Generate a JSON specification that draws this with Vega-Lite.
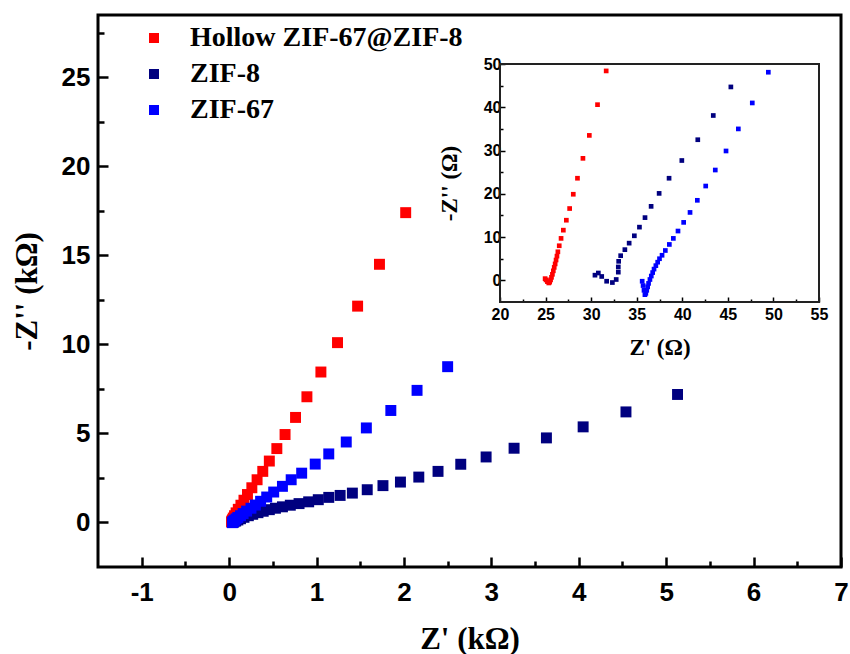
{
  "$schema": "https://vega.github.io/schema/vega-lite/v6.json",
  "width": 743,
  "height": 552,
  "autosize": "none",
  "padding": {"left": 98, "top": 15, "right": 9, "bottom": 87},
  "background": "white",
  "config": {
    "view": {"stroke": "black", "strokeWidth": 3},
    "axis": {"grid": false, "domain": false, "tickColor": "black", "labelColor": "black", "titleColor": "black", "labelFlush": false, "labelOverlap": false}
  },
  "datasets": {
    "main": [
      {"s": "Hollow ZIF-67@ZIF-8", "x": 2.02, "y": 17.4},
      {"s": "Hollow ZIF-67@ZIF-8", "x": 1.72, "y": 14.5},
      {"s": "Hollow ZIF-67@ZIF-8", "x": 1.47, "y": 12.15},
      {"s": "Hollow ZIF-67@ZIF-8", "x": 1.24, "y": 10.1},
      {"s": "Hollow ZIF-67@ZIF-8", "x": 1.05, "y": 8.45},
      {"s": "Hollow ZIF-67@ZIF-8", "x": 0.89, "y": 7.06},
      {"s": "Hollow ZIF-67@ZIF-8", "x": 0.76, "y": 5.9},
      {"s": "Hollow ZIF-67@ZIF-8", "x": 0.64, "y": 4.94},
      {"s": "Hollow ZIF-67@ZIF-8", "x": 0.546, "y": 4.15},
      {"s": "Hollow ZIF-67@ZIF-8", "x": 0.46, "y": 3.45},
      {"s": "Hollow ZIF-67@ZIF-8", "x": 0.385, "y": 2.87},
      {"s": "Hollow ZIF-67@ZIF-8", "x": 0.32, "y": 2.4},
      {"s": "Hollow ZIF-67@ZIF-8", "x": 0.26, "y": 1.95},
      {"s": "Hollow ZIF-67@ZIF-8", "x": 0.21, "y": 1.57},
      {"s": "Hollow ZIF-67@ZIF-8", "x": 0.17, "y": 1.25},
      {"s": "Hollow ZIF-67@ZIF-8", "x": 0.135, "y": 0.97},
      {"s": "Hollow ZIF-67@ZIF-8", "x": 0.105, "y": 0.74},
      {"s": "Hollow ZIF-67@ZIF-8", "x": 0.08, "y": 0.54},
      {"s": "Hollow ZIF-67@ZIF-8", "x": 0.062, "y": 0.38},
      {"s": "Hollow ZIF-67@ZIF-8", "x": 0.048, "y": 0.25},
      {"s": "Hollow ZIF-67@ZIF-8", "x": 0.038, "y": 0.15},
      {"s": "Hollow ZIF-67@ZIF-8", "x": 0.032, "y": 0.08},
      {"s": "Hollow ZIF-67@ZIF-8", "x": 0.028, "y": 0.03},
      {"s": "ZIF-8", "x": 5.13, "y": 7.19},
      {"s": "ZIF-8", "x": 4.54, "y": 6.21},
      {"s": "ZIF-8", "x": 4.05, "y": 5.37},
      {"s": "ZIF-8", "x": 3.63, "y": 4.75},
      {"s": "ZIF-8", "x": 3.26, "y": 4.17},
      {"s": "ZIF-8", "x": 2.94, "y": 3.68},
      {"s": "ZIF-8", "x": 2.65, "y": 3.27},
      {"s": "ZIF-8", "x": 2.39, "y": 2.87},
      {"s": "ZIF-8", "x": 2.17, "y": 2.55},
      {"s": "ZIF-8", "x": 1.96, "y": 2.27},
      {"s": "ZIF-8", "x": 1.76, "y": 2.07},
      {"s": "ZIF-8", "x": 1.58, "y": 1.84},
      {"s": "ZIF-8", "x": 1.41, "y": 1.65},
      {"s": "ZIF-8", "x": 1.27, "y": 1.52},
      {"s": "ZIF-8", "x": 1.14, "y": 1.41},
      {"s": "ZIF-8", "x": 1.02, "y": 1.28},
      {"s": "ZIF-8", "x": 0.91, "y": 1.16},
      {"s": "ZIF-8", "x": 0.8, "y": 1.06},
      {"s": "ZIF-8", "x": 0.7, "y": 0.97},
      {"s": "ZIF-8", "x": 0.61, "y": 0.88},
      {"s": "ZIF-8", "x": 0.53, "y": 0.8},
      {"s": "ZIF-8", "x": 0.46, "y": 0.72},
      {"s": "ZIF-8", "x": 0.39, "y": 0.63},
      {"s": "ZIF-8", "x": 0.33, "y": 0.55},
      {"s": "ZIF-8", "x": 0.27, "y": 0.46},
      {"s": "ZIF-8", "x": 0.22, "y": 0.38},
      {"s": "ZIF-8", "x": 0.17, "y": 0.29},
      {"s": "ZIF-8", "x": 0.13, "y": 0.21},
      {"s": "ZIF-8", "x": 0.1, "y": 0.14},
      {"s": "ZIF-8", "x": 0.075, "y": 0.08},
      {"s": "ZIF-8", "x": 0.055, "y": 0.04},
      {"s": "ZIF-8", "x": 0.045, "y": 0.01},
      {"s": "ZIF-67", "x": 2.5, "y": 8.75},
      {"s": "ZIF-67", "x": 2.15, "y": 7.42},
      {"s": "ZIF-67", "x": 1.85, "y": 6.29},
      {"s": "ZIF-67", "x": 1.57, "y": 5.31},
      {"s": "ZIF-67", "x": 1.34, "y": 4.52},
      {"s": "ZIF-67", "x": 1.14, "y": 3.85},
      {"s": "ZIF-67", "x": 0.985, "y": 3.28},
      {"s": "ZIF-67", "x": 0.83, "y": 2.77},
      {"s": "ZIF-67", "x": 0.71, "y": 2.4},
      {"s": "ZIF-67", "x": 0.61, "y": 2.03},
      {"s": "ZIF-67", "x": 0.51, "y": 1.71},
      {"s": "ZIF-67", "x": 0.43, "y": 1.43},
      {"s": "ZIF-67", "x": 0.36, "y": 1.19},
      {"s": "ZIF-67", "x": 0.3, "y": 0.98},
      {"s": "ZIF-67", "x": 0.25, "y": 0.8},
      {"s": "ZIF-67", "x": 0.2, "y": 0.64},
      {"s": "ZIF-67", "x": 0.16, "y": 0.5},
      {"s": "ZIF-67", "x": 0.13, "y": 0.38},
      {"s": "ZIF-67", "x": 0.1, "y": 0.28},
      {"s": "ZIF-67", "x": 0.08, "y": 0.2},
      {"s": "ZIF-67", "x": 0.063, "y": 0.13},
      {"s": "ZIF-67", "x": 0.052, "y": 0.08},
      {"s": "ZIF-67", "x": 0.045, "y": 0.04},
      {"s": "ZIF-67", "x": 0.04, "y": 0.01},
      {"s": "ZIF-67", "x": 0.037, "y": -0.01}
    ],
    "inset": [
      {"s": "Hollow ZIF-67@ZIF-8", "x": 31.65, "y": 48.4},
      {"s": "Hollow ZIF-67@ZIF-8", "x": 30.7, "y": 40.6},
      {"s": "Hollow ZIF-67@ZIF-8", "x": 29.8, "y": 33.5},
      {"s": "Hollow ZIF-67@ZIF-8", "x": 29.1, "y": 28.2},
      {"s": "Hollow ZIF-67@ZIF-8", "x": 28.5, "y": 23.6},
      {"s": "Hollow ZIF-67@ZIF-8", "x": 28.04, "y": 19.9},
      {"s": "Hollow ZIF-67@ZIF-8", "x": 27.64, "y": 16.6},
      {"s": "Hollow ZIF-67@ZIF-8", "x": 27.28, "y": 13.9},
      {"s": "Hollow ZIF-67@ZIF-8", "x": 26.95, "y": 11.6},
      {"s": "Hollow ZIF-67@ZIF-8", "x": 26.7, "y": 9.7},
      {"s": "Hollow ZIF-67@ZIF-8", "x": 26.5, "y": 8.0},
      {"s": "Hollow ZIF-67@ZIF-8", "x": 26.35, "y": 6.6},
      {"s": "Hollow ZIF-67@ZIF-8", "x": 26.25, "y": 5.6},
      {"s": "Hollow ZIF-67@ZIF-8", "x": 26.15, "y": 4.7},
      {"s": "Hollow ZIF-67@ZIF-8", "x": 26.05, "y": 3.8},
      {"s": "Hollow ZIF-67@ZIF-8", "x": 25.95, "y": 3.0},
      {"s": "Hollow ZIF-67@ZIF-8", "x": 25.85, "y": 2.2},
      {"s": "Hollow ZIF-67@ZIF-8", "x": 25.75, "y": 1.4},
      {"s": "Hollow ZIF-67@ZIF-8", "x": 25.65, "y": 0.7},
      {"s": "Hollow ZIF-67@ZIF-8", "x": 25.55, "y": 0.1},
      {"s": "Hollow ZIF-67@ZIF-8", "x": 25.45, "y": -0.4},
      {"s": "Hollow ZIF-67@ZIF-8", "x": 25.35, "y": -0.6},
      {"s": "Hollow ZIF-67@ZIF-8", "x": 25.2, "y": -0.3},
      {"s": "Hollow ZIF-67@ZIF-8", "x": 25.05, "y": 0.1},
      {"s": "Hollow ZIF-67@ZIF-8", "x": 24.95, "y": 0.4},
      {"s": "ZIF-8", "x": 30.42, "y": 1.2},
      {"s": "ZIF-8", "x": 30.79, "y": 1.7},
      {"s": "ZIF-8", "x": 31.16, "y": 0.9},
      {"s": "ZIF-8", "x": 31.7, "y": -0.2},
      {"s": "ZIF-8", "x": 32.33, "y": -0.5},
      {"s": "ZIF-8", "x": 32.75, "y": 0.2},
      {"s": "ZIF-8", "x": 32.98, "y": 1.9},
      {"s": "ZIF-8", "x": 32.98, "y": 3.1},
      {"s": "ZIF-8", "x": 33.02, "y": 4.4},
      {"s": "ZIF-8", "x": 33.24, "y": 5.7},
      {"s": "ZIF-8", "x": 33.7, "y": 7.1},
      {"s": "ZIF-8", "x": 34.17, "y": 8.6},
      {"s": "ZIF-8", "x": 34.74, "y": 10.3},
      {"s": "ZIF-8", "x": 35.3, "y": 12.3},
      {"s": "ZIF-8", "x": 35.91, "y": 14.5},
      {"s": "ZIF-8", "x": 36.58, "y": 17.1},
      {"s": "ZIF-8", "x": 37.46, "y": 20.1},
      {"s": "ZIF-8", "x": 38.55, "y": 23.6},
      {"s": "ZIF-8", "x": 39.95, "y": 27.7},
      {"s": "ZIF-8", "x": 41.7, "y": 32.5},
      {"s": "ZIF-8", "x": 43.4, "y": 38.1},
      {"s": "ZIF-8", "x": 45.33, "y": 44.7},
      {"s": "ZIF-67", "x": 35.6, "y": -0.2},
      {"s": "ZIF-67", "x": 35.7, "y": -1.2},
      {"s": "ZIF-67", "x": 35.8, "y": -2.3},
      {"s": "ZIF-67", "x": 35.9, "y": -3.3},
      {"s": "ZIF-67", "x": 36.0, "y": -3.0},
      {"s": "ZIF-67", "x": 36.1, "y": -2.3},
      {"s": "ZIF-67", "x": 36.2, "y": -1.5},
      {"s": "ZIF-67", "x": 36.3, "y": -0.7},
      {"s": "ZIF-67", "x": 36.45, "y": 0.2},
      {"s": "ZIF-67", "x": 36.6, "y": 1.0},
      {"s": "ZIF-67", "x": 36.75, "y": 1.8},
      {"s": "ZIF-67", "x": 36.9, "y": 2.6},
      {"s": "ZIF-67", "x": 37.1, "y": 3.4},
      {"s": "ZIF-67", "x": 37.3, "y": 4.2},
      {"s": "ZIF-67", "x": 37.5, "y": 5.0},
      {"s": "ZIF-67", "x": 37.78, "y": 5.8},
      {"s": "ZIF-67", "x": 38.14, "y": 6.9},
      {"s": "ZIF-67", "x": 38.58, "y": 8.3},
      {"s": "ZIF-67", "x": 39.02, "y": 9.7},
      {"s": "ZIF-67", "x": 39.53, "y": 11.4},
      {"s": "ZIF-67", "x": 40.15, "y": 13.4},
      {"s": "ZIF-67", "x": 40.85, "y": 15.7},
      {"s": "ZIF-67", "x": 41.65, "y": 18.5},
      {"s": "ZIF-67", "x": 42.57, "y": 21.8},
      {"s": "ZIF-67", "x": 43.62, "y": 25.5},
      {"s": "ZIF-67", "x": 44.8, "y": 29.9},
      {"s": "ZIF-67", "x": 46.15, "y": 35.0},
      {"s": "ZIF-67", "x": 47.68, "y": 41.0},
      {"s": "ZIF-67", "x": 49.44, "y": 48.1}
    ]
  },
  "layer": [
    {
      "data": {"name": "main"},
      "mark": {"type": "square", "size": 120, "opacity": 1},
      "encoding": {
        "x": {
          "field": "x", "type": "quantitative",
          "scale": {"domain": [-1.5, 7], "nice": false, "zero": false},
          "axis": {
            "values": [-1, -0.5, 0, 0.5, 1, 1.5, 2, 2.5, 3, 3.5, 4, 4.5, 5, 5.5, 6, 6.5, 7],
            "labelExpr": "datum.value % 1 === 0 ? '' + datum.value : ''",
            "tickWidth": 2.5,
            "tickSize": {"condition": {"test": "datum.value % 1 !== 0", "value": -6}, "value": -10},
            "labelPadding": 22,
            "labelFont": "Liberation Sans", "labelFontWeight": "bold", "labelFontSize": 26,
            "title": "Z' (kΩ)",
            "titleFont": "Liberation Serif", "titleFontWeight": "bold", "titleFontSize": 31,
            "titlePadding": 15
          }
        },
        "y": {
          "field": "y", "type": "quantitative",
          "scale": {"domain": [-2.5, 28.5], "nice": false, "zero": false},
          "axis": {
            "values": [0, 2.5, 5, 7.5, 10, 12.5, 15, 17.5, 20, 22.5, 25, 27.5],
            "labelExpr": "datum.value % 5 === 0 ? '' + datum.value : ''",
            "tickWidth": 2.5,
            "tickSize": {"condition": {"test": "datum.value % 5 !== 0", "value": -6}, "value": -10},
            "labelPadding": 18,
            "labelFont": "Liberation Sans", "labelFontWeight": "bold", "labelFontSize": 26,
            "title": "-Z'' (kΩ)",
            "titleFont": "Liberation Serif", "titleFontWeight": "bold", "titleFontSize": 31,
            "titlePadding": 18
          }
        },
        "color": {
          "field": "s", "type": "nominal",
          "scale": {"domain": ["Hollow ZIF-67@ZIF-8", "ZIF-8", "ZIF-67"], "range": ["#ff0000", "#00007f", "#0000ff"]},
          "legend": {
            "orient": "none", "legendX": 42, "legendY": 9, "title": null, "padding": 0,
            "symbolType": "square", "symbolSize": 100, "symbolStrokeWidth": 0,
            "labelFont": "Liberation Serif", "labelFontWeight": "bold", "labelFontSize": 28, "labelColor": "black",
            "labelLimit": 0, "rowPadding": 8, "labelOffset": 22
          }
        }
      }
    },
    {
      "layer": [
        {
          "data": {"values": [{}]},
          "mark": {"type": "rect", "fillOpacity": 0, "stroke": "#222222", "strokeWidth": 2},
          "encoding": {
            "x": {"datum": 20, "type": "quantitative"},
            "x2": {"datum": 55},
            "y": {"datum": -5, "type": "quantitative"},
            "y2": {"datum": 50}
          }
        },
        {
          "data": {"name": "inset"},
          "mark": {"type": "square", "size": 22, "opacity": 1},
          "encoding": {
            "x": {
              "field": "x", "type": "quantitative",
              "scale": {"domain": [20, 55], "range": [402, 721], "nice": false, "zero": false},
              "axis": {
                "orient": "bottom", "offset": -265,
                "values": [20, 22.5, 25, 27.5, 30, 32.5, 35, 37.5, 40, 42.5, 45, 47.5, 50, 52.5, 55],
                "labelExpr": "datum.value % 5 === 0 ? '' + datum.value : ''",
                "tickWidth": 1.5,
                "tickSize": {"condition": {"test": "datum.value % 5 !== 0", "value": -3}, "value": -5},
                "labelPadding": 9,
                "labelFont": "Liberation Sans", "labelFontWeight": "bold", "labelFontSize": 16,
                "title": "Z' (Ω)",
                "titleFont": "Liberation Serif", "titleFontWeight": "bold", "titleFontSize": 23,
                "titlePadding": 12
              }
            },
            "y": {
              "field": "y", "type": "quantitative",
              "scale": {"domain": [-5, 50], "range": [287, 49], "nice": false, "zero": false},
              "axis": {
                "orient": "left", "offset": -402,
                "values": [0, 5, 10, 15, 20, 25, 30, 35, 40, 45, 50],
                "labelExpr": "datum.value % 10 === 0 ? '' + datum.value : ''",
                "tickWidth": 1.5,
                "tickSize": {"condition": {"test": "datum.value % 10 !== 0", "value": -3}, "value": -5},
                "labelPadding": 4,
                "labelFont": "Liberation Sans", "labelFontWeight": "bold", "labelFontSize": 16,
                "title": "-Z'' (Ω)",
                "titleFont": "Liberation Serif", "titleFontWeight": "bold", "titleFontSize": 23,
                "titlePadding": 22
              }
            },
            "color": {"field": "s", "type": "nominal"}
          }
        }
      ]
    }
  ],
  "resolve": {"scale": {"x": "independent", "y": "independent"}}
}
